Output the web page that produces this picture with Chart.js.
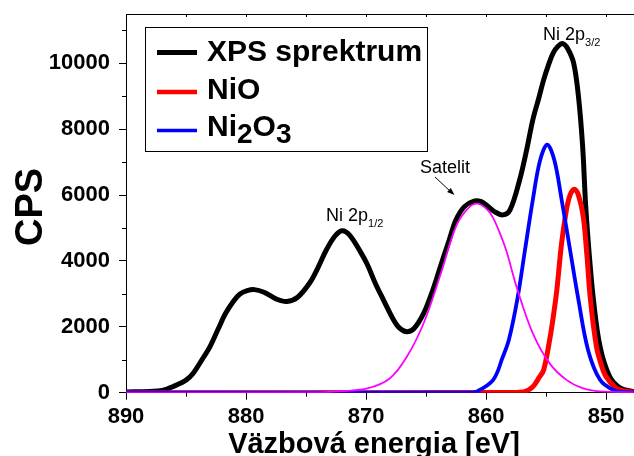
<!DOCTYPE html>
<html>
<head>
    <script src="https://cdn.jsdelivr.net/npm/chart.js@4.4.1/dist/chart.umd.min.js"></script>
    <style>
        body { margin: 0; background: #fff; }
    </style>
</head>

<body>
<canvas id="myChart" width="634" height="456"></canvas>

<script>
    // XPS spectrum, Ni 2p region (energies in eV, intensities in CPS)
    const xpsEnergy = [890, 888, 887, 886, 885, 884.4, 883.5, 883, 882.3, 881.7, 881, 880.5, 879.9, 879.3, 878.5, 877.5,
        876.6, 875.7, 874.7, 874, 873.3, 872.6, 872, 871.4, 870.5, 869.9, 869.2, 868.55, 867.7, 867.2, 866.6, 866,
        865.2, 864.5, 863.8, 863.1, 862.5, 861.8, 861, 860.4, 859.8, 859.3, 858.6, 858, 857.2, 856.6, 856.1, 855.6,
        855.2, 854.8, 854.4, 854, 853.6, 853.2, 852.7, 852.3, 851.95, 851.7, 851.4, 851.05, 850.5, 849.7, 848.8, 847.7];
    const xpsCps = [20, 40, 70, 200, 380, 590, 1100, 1400, 1950, 2410, 2800, 3000, 3100, 3130, 3050, 2850,
        2770, 2900, 3330, 3800, 4340, 4750, 4920, 4800, 4300, 3900, 3300, 2820, 2210, 1960, 1850, 1950,
        2410, 3050, 3830, 4600, 5250, 5650, 5820, 5800, 5650, 5500, 5400, 5550, 6460, 7400, 8290, 8950,
        9500, 9950, 10320, 10520, 10600, 10450, 10010, 9000, 7480, 5700, 4200, 2820, 1400, 490, 140, 30];

    const nioEnergy = [890, 858, 856.8, 856.1, 855.6, 855.2, 854.7, 854.4, 854.1, 853.7, 853.3, 853, 852.65,
        852.3, 851.9, 851.6, 851.3, 850.8, 850.4, 850, 849.2, 848.5, 847.7];
    const nioCps = [0, 5, 30, 180, 450, 690, 1600, 2300, 3120, 4550, 5550, 6000, 6180,
        6000, 5350, 4200, 2820, 1400, 850, 490, 150, 50, 20];

    const ni2o3Energy = [890, 861.5, 860.8, 859.4, 858.6, 858.1, 857.4, 856.75, 856.1, 855.5, 854.9, 854.3,
        853.7, 853, 852.3, 851.5, 850.5, 849.4, 848.5, 847.7];
    const ni2o3Cps = [0, 0, 30, 390, 1090, 1600, 2820, 4340, 5860, 7050, 7530, 7050,
        5860, 4340, 2820, 1300, 390, 80, 20, 10];

    const satEnergy = [890, 874, 872.7, 869.9, 868, 866.6, 865.2, 863.8, 862.5, 861.5, 860.7, 859.9, 859.4,
        858.8, 858.3, 857.4, 856.1, 854.7, 853.3, 851.9, 850.5, 847.7];
    const satCps = [0, 10, 30, 130, 440, 1090, 2110, 3580, 5050, 5600, 5740, 5560, 5300,
        4800, 4300, 3150, 1800, 890, 390, 130, 40, 10];

    const xTicks = [890, 880, 870, 860, 850];
    const xMinorTicks = [885, 875, 865, 855];
    const yTicks = [0, 2000, 4000, 6000, 8000, 10000];
    const yMinorTicks = [1000, 3000, 5000, 7000, 9000, 11000];

    const FONT = "'Liberation Sans', Arial, sans-serif";

    function points(xs, ys) {
        return xs.map((x, i) => ({x: x, y: ys[i]}));
    }

    function subText(ctx, parts, x, y) {
        // parts: [text, size, weight, dy]
        parts.forEach(p => {
            ctx.font = p[2] + " " + p[1] + "px " + FONT;
            ctx.fillText(p[0], x, y + p[3]);
            x += ctx.measureText(p[0]).width;
        });
    }

    const decorations = {
        id: "decorations",
        afterDraw(chart) {
            const ctx = chart.ctx;
            const area = chart.chartArea;
            const xs = chart.scales.x;
            const ys = chart.scales.y;
            ctx.save();
            ctx.strokeStyle = "#000";
            ctx.fillStyle = "#000";
            ctx.lineWidth = 1;

            // top frame line with small inner ticks
            ctx.beginPath();
            ctx.moveTo(area.left, area.top + 0.5);
            ctx.lineTo(area.right, area.top + 0.5);
            xTicks.concat(xMinorTicks).forEach(v => {
                const px = Math.round(xs.getPixelForValue(v)) + 0.5;
                ctx.moveTo(px, area.top);
                ctx.lineTo(px, area.top + 3);
            });
            // minor ticks
            xMinorTicks.forEach(v => {
                const px = Math.round(xs.getPixelForValue(v)) + 0.5;
                ctx.moveTo(px, area.bottom);
                ctx.lineTo(px, area.bottom + 4);
            });
            yMinorTicks.forEach(v => {
                const py = Math.round(ys.getPixelForValue(v)) + 0.5;
                ctx.moveTo(area.left - 4, py);
                ctx.lineTo(area.left, py);
            });
            ctx.stroke();

            // axis titles
            ctx.textAlign = "center";
            ctx.textBaseline = "alphabetic";
            ctx.font = "bold 29px " + FONT;
            ctx.fillText("Väzbová energia [eV]", 374, 452.5);
            ctx.save();
            ctx.translate(41.5, 207);
            ctx.rotate(-Math.PI / 2);
            ctx.font = "bold 38px " + FONT;
            ctx.fillText("CPS", 0, 0);
            ctx.restore();

            // legend
            ctx.textAlign = "left";
            ctx.strokeRect(145.5, 27.5, 282, 124);
            const rows = [
                {color: "#000000", y: 52.5, w: 5, parts: [["XPS sprektrum", 30, "bold", 0]], base: 61},
                {color: "#ff0000", y: 92, w: 4.5, parts: [["NiO", 30, "bold", 0]], base: 99},
                {color: "#0000ff", y: 130.5, w: 3.5, parts: [["Ni", 30, "bold", 0], ["2", 28, "bold", 7],
                    ["O", 30, "bold", 0], ["3", 28, "bold", 7]], base: 136}
            ];
            rows.forEach(r => {
                ctx.beginPath();
                ctx.strokeStyle = r.color;
                ctx.lineWidth = r.w;
                ctx.moveTo(157, r.y);
                ctx.lineTo(197, r.y);
                ctx.stroke();
                subText(ctx, r.parts, 207, r.base);
            });

            // peak annotations
            subText(ctx, [["Ni 2p", 18, "normal", 0], ["3/2", 11, "normal", 6.5]], 543, 39.5);
            subText(ctx, [["Ni 2p", 18, "normal", 0], ["1/2", 11, "normal", 6]], 326, 220.5);
            subText(ctx, [["Satelit", 18, "normal", 0]], 420, 173.3);

            // arrow to the satellite peak
            ctx.strokeStyle = "#000";
            ctx.lineWidth = 1;
            ctx.beginPath();
            ctx.moveTo(435, 177);
            ctx.lineTo(451, 192);
            ctx.stroke();
            const ang = Math.atan2(195 - 177, 454.5 - 435);
            ctx.beginPath();
            ctx.moveTo(454.5, 195);
            ctx.lineTo(454.5 - 8 * Math.cos(ang - 0.35), 195 - 8 * Math.sin(ang - 0.35));
            ctx.lineTo(454.5 - 8 * Math.cos(ang + 0.35), 195 - 8 * Math.sin(ang + 0.35));
            ctx.closePath();
            ctx.fill();

            ctx.restore();
        }
    };

    const lineSet = (data, color, width) => ({
        data: data,
        borderColor: color,
        borderWidth: width,
        pointRadius: 0,
        fill: false,
        tension: 0.35
    });

    let myChart = new Chart("myChart", {
        type: "line",
        data: {
            datasets: [
                lineSet(points(satEnergy, satCps), "#ff00ff", 1.8),
                lineSet(points(ni2o3Energy, ni2o3Cps), "#0000ff", 3.8),
                lineSet(points(nioEnergy, nioCps), "#ff0000", 5),
                lineSet(points(xpsEnergy, xpsCps), "#000000", 5)
            ]
        },
        options: {
            responsive: false,
            animation: false,
            layout: {padding: {top: 14, right: 0, left: 0, bottom: 0}},
            plugins: {
                legend: {display: false},
                tooltip: {enabled: false}
            },
            scales: {
                x: {
                    type: "linear",
                    reverse: true,
                    min: 847.67,
                    max: 890,
                    afterFit: s => { s.height = 63.3; s.paddingLeft = 0; s.paddingRight = 0; },
                    afterBuildTicks: s => { s.ticks = xTicks.map(v => ({value: v})); },
                    border: {display: true, color: "#000", width: 1},
                    grid: {drawOnChartArea: false, tickLength: 7, color: "#000"},
                    ticks: {
                        includeBounds: false,
                        padding: 4,
                        color: "#000",
                        font: {family: FONT, size: 22, weight: "bold"},
                        callback: v => v.toString()
                    }
                },
                y: {
                    min: 0,
                    max: 11500,
                    afterFit: s => { s.width = 126; s.paddingTop = 0; s.paddingBottom = 0; },
                    afterBuildTicks: s => { s.ticks = yTicks.map(v => ({value: v})); },
                    border: {display: true, color: "#000", width: 1},
                    grid: {drawOnChartArea: false, tickLength: 7, color: "#000"},
                    ticks: {
                        includeBounds: false,
                        padding: 9,
                        color: "#000",
                        font: {family: FONT, size: 22, weight: "bold"},
                        callback: v => v.toString()
                    }
                }
            }
        },
        plugins: [decorations]
    });
</script>
</body>
</html>
